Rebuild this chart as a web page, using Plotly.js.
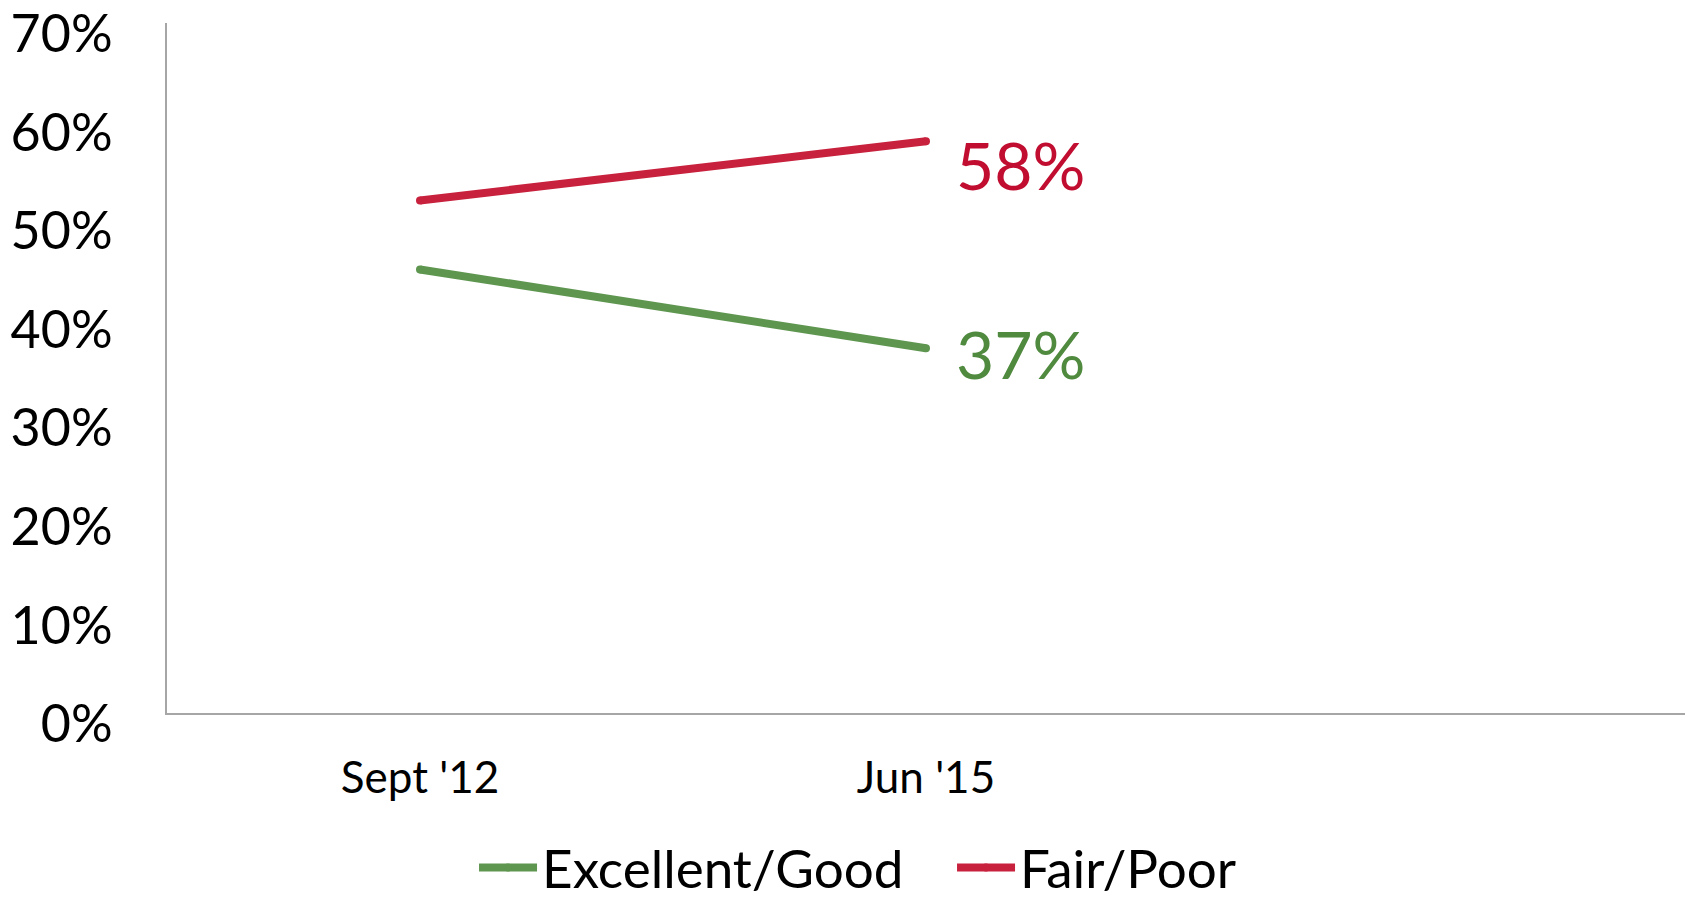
<!DOCTYPE html>
<html>
<head>
<meta charset="utf-8">
<script src="https://cdn.plot.ly/plotly-3.0.1.min.js"></script>
<style>
  html, body { margin: 0; padding: 0; background: #fff; }
  #grafico { width: 1694px; height: 900px; }
</style>
</head>
<body>
<div id="grafico"></div>
<script>
// dati
let categories = ["Sept '12", "Jun '15", ""];
let excellentGood = [45, 37];
let fairPoor = [52, 58];
let yTicks = [0, 10, 20, 30, 40, 50, 60, 70];

let green = '#5E9650';
let red = '#C8213D';

function plotGraph() {
    let xs = [0, 1];

    let traceGood = {
        x: xs,
        y: excellentGood,
        name: 'Excellent/Good',
        mode: 'lines+markers',
        line: { color: green, width: 8 },
        marker: { color: green, size: 8 },
        type: 'scatter',
        hoverinfo: 'none'
    };

    let tracePoor = {
        x: xs,
        y: fairPoor,
        name: 'Fair/Poor',
        mode: 'lines+markers',
        line: { color: red, width: 8 },
        marker: { color: red, size: 8 },
        type: 'scatter',
        hoverinfo: 'none'
    };

    let last = xs.length - 1;

    let layout = {
        width: 1694,
        height: 900,
        paper_bgcolor: '#fff',
        plot_bgcolor: '#fff',
        font: { family: 'Lato, "Open Sans", sans-serif', color: '#000' },
        margin: { l: 167, r: 9, t: 23, b: 187 },
        showlegend: true,
        xaxis: {
            range: [-0.5, categories.length - 0.5],
            tickvals: [0, 1, 2],
            ticktext: categories,
            showline: true,
            linecolor: '#A6A6A6',
            linewidth: 2,
            showgrid: false,
            zeroline: false,
            ticks: '',
            automargin: false,
            ticklabelstandoff: 25,
            tickfont: { size: 44 }
        },
        yaxis: {
            range: [0, 70],
            tickvals: yTicks,
            ticktext: yTicks.map(v => v + '%'),
            showline: true,
            linecolor: '#A6A6A6',
            linewidth: 2,
            showgrid: false,
            zeroline: false,
            ticks: '',
            automargin: false,
            ticklabeloverflow: 'allow',
            ticklabelshift: 11,
            ticklabelstandoff: 42,
            tickfont: { size: 52 }
        },
        legend: {
            orientation: 'h',
            xref: 'container',
            yref: 'container',
            x: 0.562,
            xanchor: 'center',
            y: 0.036,
            yanchor: 'middle',
            font: { size: 53 },
            itemwidth: 58,
            entrywidth: 405,
            entrywidthmode: 'pixels'
        },
        annotations: [
            {
                x: xs[last], y: fairPoor[last], xref: 'x', yref: 'y',
                text: fairPoor[last] + '%', showarrow: false,
                xanchor: 'left', yanchor: 'middle',
                xshift: 28, yshift: -23,
                font: { size: 66, color: '#C00D30' }
            },
            {
                x: xs[last], y: excellentGood[last], xref: 'x', yref: 'y',
                text: excellentGood[last] + '%', showarrow: false,
                xanchor: 'left', yanchor: 'middle',
                xshift: 28, yshift: -5,
                font: { size: 66, color: '#4F8A3E' }
            }
        ]
    };

    Plotly.newPlot('grafico', [traceGood, tracePoor], layout, { staticPlot: true });
}

document.addEventListener("DOMContentLoaded", () => {
    plotGraph();
});
</script>
</body>
</html>
